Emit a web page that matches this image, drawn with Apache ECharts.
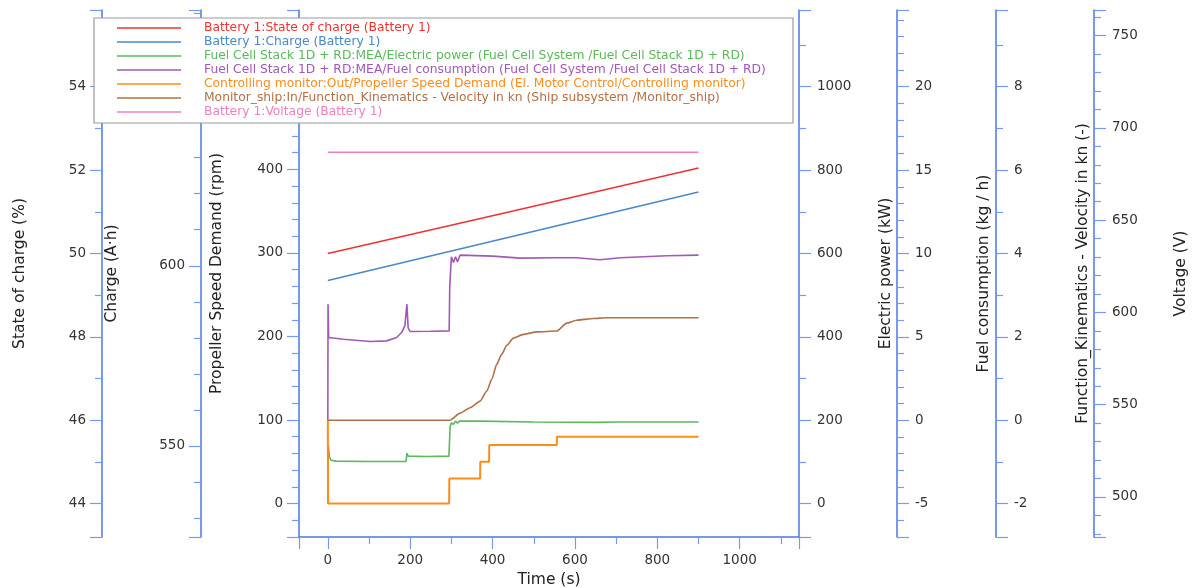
<!DOCTYPE html>
<html>
<head>
<meta charset="utf-8">
<script src="https://cdn.jsdelivr.net/npm/echarts@6/dist/echarts.min.js"></script>
<style>
  html, body { margin: 0; padding: 0; background: #fff; }
  #main { width: 1198px; height: 588px; }
</style>
</head>
<body>
<div id="main"></div>
<script>
// ---- data (time in s) ----
var names = [
  'Battery 1:State of charge (Battery 1)',
  'Battery 1:Charge (Battery 1)',
  'Fuel Cell Stack 1D + RD:MEA/Electric power (Fuel Cell System /Fuel Cell Stack 1D + RD)',
  'Fuel Cell Stack 1D + RD:MEA/Fuel consumption (Fuel Cell System /Fuel Cell Stack 1D + RD)',
  'Controlling monitor:Out/Propeller Speed Demand (El. Motor Control/Controlling monitor)',
  'Monitor_ship:In/Function_Kinematics - Velocity in kn (Ship subsystem /Monitor_ship)',
  'Battery 1:Voltage (Battery 1)'
];
var colors = ['#ee3333', '#4a88c8', '#5cb85c', '#a259b5', '#ff8c1a', '#b0704a', '#ef80c0'];

var tSoc = [0, 450, 900];
var soc = [50.0, 51.02, 52.05];

var tCharge = [0, 450, 900];
var charge = [595.9, 608.2, 620.5];

var tPower = [0, 1, 4, 8, 20, 100, 190, 192, 195, 240, 294, 297, 300, 305, 310, 315, 320, 370, 500, 650, 700, 900];
var power = [0, 140, 112, 104, 102, 101, 101, 121, 114, 113, 114, 185, 194, 190, 198, 193, 198, 198, 196, 195, 196, 196];

var tFuel = [0, 0.5, 2, 38, 103, 143, 167, 179, 187, 192, 195, 200, 250, 294.6, 296, 300, 305, 310, 315, 321, 400, 467, 550, 604, 661, 710, 823, 900];
var fuel = [0, 6.96, 4.96, 4.86, 4.72, 4.76, 4.96, 5.26, 5.66, 6.96, 5.54, 5.32, 5.34, 5.36, 8.0, 9.8, 9.46, 9.8, 9.5, 9.9, 9.84, 9.72, 9.74, 9.74, 9.62, 9.74, 9.86, 9.9];

var tProp = [0, 0.5, 294.5, 295, 369.7, 370.2, 391.5, 392, 555.8, 556.3, 900];
var prop = [100, 0, 0, 30, 30, 50, 50, 70, 70, 80, 80];

var tVel = [0, 296.8, 321, 345.4, 369.7, 385.9, 398, 410, 422, 434.5, 450.5, 474.8, 507, 555.8, 580, 604, 644.7, 677, 900];
var vel = [0, 0, 0.17, 0.30, 0.46, 0.70, 0.98, 1.34, 1.58, 1.80, 1.97, 2.06, 2.12, 2.14, 2.33, 2.40, 2.44, 2.46, 2.46];

var tVolt = [0, 450, 900];
var volt = [686.8, 686.8, 686.8];

// axis ranges and tick labels
var xLabels = [0, 200, 400, 600, 800, 1000];
var xMinor = [100, 300, 500, 700, 900, 1100];

var axes = [
  {name: 'State of charge (%)', min: 43.2, max: 55.84, labels: [44, 46, 48, 50, 52, 54], major: [44, 46, 48, 50, 52, 54], minor: [45, 47, 49, 51, 53, 55], pos: 'left', off: 197, gap: 74},
  {name: 'Charge (A\u00b7h)', min: 524.7, max: 671, labels: [550, 600], major: [550, 600, 650], minor: [530, 540, 560, 570, 580, 590, 610, 620, 630, 640, 660, 670], pos: 'left', off: 98, gap: 81},
  {name: 'Propeller Speed Demand (rpm)', min: -40, max: 590.8, labels: [0, 100, 200, 300, 400], major: [0, 100, 200, 300, 400, 500], minor: [-20, 20, 40, 60, 80, 120, 140, 160, 180, 220, 240, 260, 280, 320, 340, 360, 380, 420, 440, 460, 480, 520, 540, 560, 580], pos: 'left', off: 0, gap: 74},
  {name: 'Electric power (kW)', min: -80, max: 1184, labels: [0, 200, 400, 600, 800, 1000], major: [0, 200, 400, 600, 800, 1000], minor: [100, 300, 500, 700, 900, 1100], pos: 'right', off: 0, gap: 79},
  {name: 'Fuel consumption (kg / h)', min: -7.0, max: 24.6, labels: [-5, 0, 5, 10, 15, 20], major: [-5, 0, 5, 10, 15, 20], minor: [-6, -4, -3, -2, -1, 1, 2, 3, 4, 6, 7, 8, 9, 11, 12, 13, 14, 16, 17, 18, 19, 21, 22, 23, 24], pos: 'right', off: 98, gap: 79},
  {name: 'Function_Kinematics - Velocity in kn (-)', min: -2.8, max: 9.84, labels: [-2, 0, 2, 4, 6, 8], major: [-2, 0, 2, 4, 6, 8], minor: [-1, 1, 3, 5, 7, 9], pos: 'right', off: 197, gap: 79},
  {name: 'Voltage (V)', min: 478.3, max: 763.9, labels: [500, 550, 600, 650, 700, 750], major: [500, 550, 600, 650, 700, 750], minor: [480, 490, 510, 520, 530, 540, 560, 570, 580, 590, 610, 620, 630, 640, 660, 670, 680, 690, 710, 720, 730, 740, 760], pos: 'right', off: 295, gap: 79}
];

function pairs(t, v) {
  var out = [];
  for (var i = 0; i < t.length; i++) out.push([t[i], v[i]]);
  return out;
}

var axisBlue = '#4a76e6';
var tickBlue = '#7499ee';
var font = 'DejaVu Sans';
var plain = function (v) { return String(v); };

var yAxes = [];
axes.forEach(function (a) {
  yAxes.push({
    type: 'value', min: a.min, max: a.max, position: a.pos, offset: a.off,
    name: a.name, nameLocation: 'middle', nameGap: a.gap, nameRotate: 90,
    nameTextStyle: {fontFamily: font, fontSize: 15.5, color: '#222'},
    axisLine: {show: true, onZero: false, lineStyle: {color: axisBlue, width: 1.5}},
    axisTick: {show: true, length: 12, customValues: a.major.concat([a.min, a.max]), lineStyle: {color: tickBlue, width: 1.2}},
    axisLabel: {customValues: a.labels, formatter: plain, margin: a.pos === 'left' ? 16 : 18, fontFamily: font, fontSize: 13.5, color: '#333'},
    splitLine: {show: false}
  });
});
// minor ticks
axes.forEach(function (a) {
  yAxes.push({
    type: 'value', min: a.min, max: a.max, position: a.pos, offset: a.off,
    axisLine: {show: false, onZero: false},
    axisTick: {show: true, length: 7, customValues: a.minor, lineStyle: {color: tickBlue, width: 1.2}},
    axisLabel: {show: false},
    splitLine: {show: false}
  });
});

var seriesData = [
  {t: tSoc, v: soc, y: 0, w: 1.6},
  {t: tCharge, v: charge, y: 1, w: 1.6},
  {t: tPower, v: power, y: 3, w: 1.6},
  {t: tFuel, v: fuel, y: 4, w: 1.6},
  {t: tProp, v: prop, y: 2, w: 2},
  {t: tVel, v: vel, y: 5, w: 1.6, smooth: 0.2},
  {t: tVolt, v: volt, y: 6, w: 1.6}
];

var series = seriesData.map(function (s, i) {
  return {
    name: names[i], type: 'line', yAxisIndex: s.y, xAxisIndex: 0,
    data: pairs(s.t, s.v), showSymbol: false, symbol: 'none',
    smooth: s.smooth || false, smoothMonotone: 'x',
    color: colors[i], lineStyle: {color: colors[i], width: s.w}
  };
});

var chart = echarts.init(document.getElementById('main'), null, {renderer: 'canvas'});
chart.setOption({
  animation: false,
  grid: {left: 299, right: 399, top: 10, bottom: 51, containLabel: false, outerBoundsMode: 'none'},
  legend: {
    orient: 'vertical', left: 94, top: 18, padding: [3, 21, 4, 23],
    backgroundColor: '#fff', borderColor: '#9a9a9a', borderWidth: 1.2,
    icon: 'rect', itemWidth: 64, itemHeight: 1.6, itemGap: 0,
    data: names.map(function (n, i) { return {name: n, textStyle: {color: colors[i]}}; }),
    formatter: function (n) { return '{t|' + n + '}'; },
    textStyle: {fontFamily: font, fontSize: 12.3, lineHeight: 14,
      rich: {t: {padding: [0, 0, 0, 18], width: 568, fontFamily: font, fontSize: 12.3, lineHeight: 14}}}
  },
  xAxis: [{
    type: 'value', min: -70, max: 1144, position: 'bottom',
    name: 'Time (s)', nameLocation: 'middle', nameGap: 29,
    nameTextStyle: {fontFamily: font, fontSize: 15.5, color: '#222'},
    axisLine: {show: true, onZero: false, lineStyle: {color: axisBlue, width: 1.5}},
    axisTick: {show: true, length: 12, customValues: [-70].concat(xLabels, [1144]), lineStyle: {color: tickBlue, width: 1.2}},
    axisLabel: {customValues: xLabels, formatter: plain, margin: 16, fontFamily: font, fontSize: 13.5, color: '#333'},
    splitLine: {show: false}
  }, {
    type: 'value', min: -70, max: 1144, position: 'bottom',
    axisLine: {show: false, onZero: false},
    axisTick: {show: true, length: 7, customValues: xMinor, lineStyle: {color: tickBlue, width: 1.2}},
    axisLabel: {show: false},
    splitLine: {show: false}
  }],
  yAxis: yAxes,
  series: series
});
</script>
</body>
</html>
